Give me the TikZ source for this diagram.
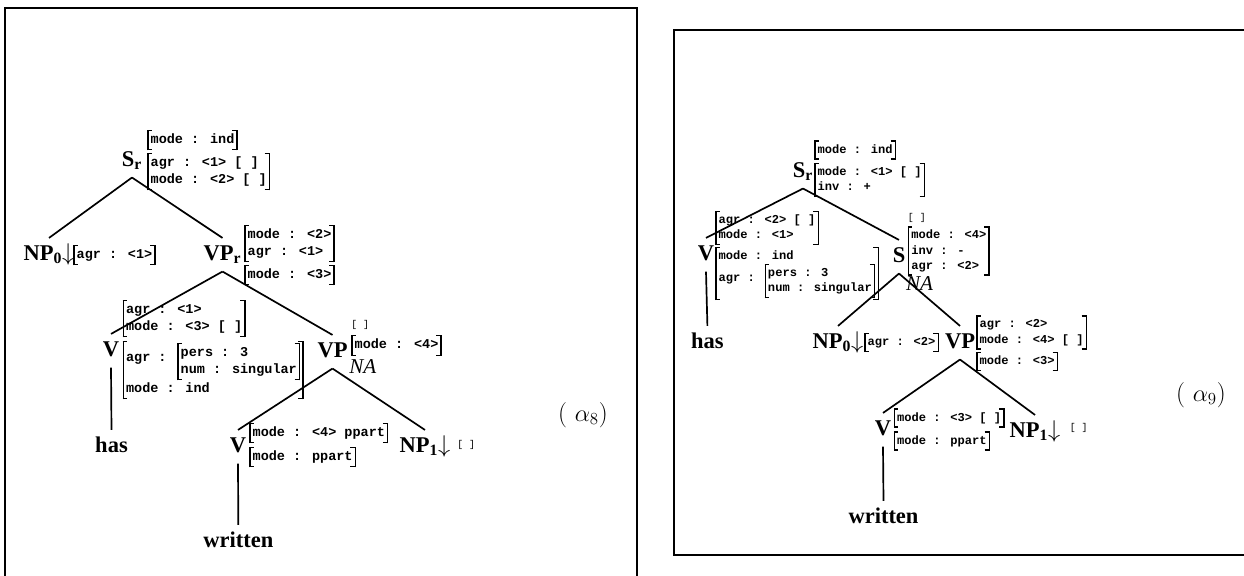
\documentclass[tikz,border=0pt]{standalone}
\usepackage{fontspec}
\newfontfamily\lblfont{Liberation Serif}
\newfontfamily\avmfont{Liberation Mono}
\newdimen\avmht \newdimen\avmdp \newdimen\avmhtx \newdimen\avmdpx
% feature structure with square brackets
\newcommand\avm[1]{{\setbox0=\hbox{\begin{tabular}{@{\hspace{1.5pt}}l@{\hspace{1.5pt}}}#1\end{tabular}}%
  \avmht=\ht0 \advance\avmht by 1.4pt
  \avmdp=\dp0 \advance\avmdp by 1.4pt
  \avmhtx=\avmht \advance\avmhtx by -.9pt
  \avmdpx=\avmdp \advance\avmdpx by -.9pt
  \rlap{\vrule height\avmht depth-\avmhtx width 3pt}%
  \rlap{\vrule height-\avmdpx depth\avmdp width 3pt}%
  \vrule height\avmht depth\avmdp width .9pt
  \box0\relax
  \llap{\vrule height\avmht depth-\avmhtx width 3pt}%
  \llap{\vrule height-\avmdpx depth\avmdp width 3pt}%
  \vrule height\avmht depth\avmdp width .9pt}}
\newcommand\avmsub[1]{\raisebox{-\dimexpr .3\baselineskip+.25em\relax}{\avm{#1}}}
\tikzset{
  lbl/.style={anchor=base, inner xsep=0pt, inner ysep=5pt, text height=10.5pt, text depth=3pt,
    font=\fontsize{16}{19}\lblfont\bfseries},
  fs/.style={anchor=west, inner sep=0pt, font=\fontsize{9.6}{12}\avmfont\bfseries},
  fsr/.style={fs, font=\fontsize{8.6}{10.8}\avmfont\bfseries},
  nofs/.style={anchor=west, inner sep=0pt, font=\fontsize{7}{8}\avmfont},
  na/.style={anchor=base west, inner sep=0pt, font=\fontsize{15}{18}\lblfont\itshape},
  tag/.style={inner sep=0pt, font=\fontsize{18}{21}\selectfont},
  tree/.style={line width=1.2pt},
  frame/.style={draw, line width=1.8pt}
}
\begin{document}
\begin{tikzpicture}[x=0.025cm, y=-0.025cm]
   \useasboundingbox (0,0) rectangle (1244,575);
   \clip (0,0) rectangle (1244,575);
   \draw[frame] (5,8) rectangle (637,600);
   \draw[frame] (674,30) rectangle (1260,555);

   % alpha 8
   \node[lbl] (lSr) at (132,166) {S\textsubscript{r}};
   \node[fs] (lSr-t) at (147,140) {\avm{mode : ind}};
   \node[fs] (lSr-b) at (147,171.5) {\avm{agr : <1> [ ]\\mode : <2> [ ]}};
   \node[lbl] (lNPz) at (49,260) {NP\textsubscript{0}$\downarrow$};
   \node[fs] (lNPz-f) at (73,255) {\avm{agr : <1>}};
   \node[lbl] (lVPr) at (222.5,260) {VP\textsubscript{r}};
   \node[fs] (lVPr-t) at (244,243.5) {\avm{mode : <2>\\agr : <1>}};
   \node[fs] (lVPr-b) at (244,275) {\avm{mode : <3>}};
   \node[lbl] (lVh) at (111,356) {V};
   \node[fs] (lVh-t) at (122.4,318.5) {\avm{agr : <1>\\mode : <3> [ ]}};
   \node[fs] (lVh-b) at (122.4,370) {\avm{agr : \avmsub{pers : 3\\num : singular}\\mode : ind}};
   \node[lbl] (lhas) at (111.5,452) {has};
   \node[lbl] (lVPn) at (332.5,357) {VP};
   \node[nofs] (lVPn-t) at (351,325) {[ ]};
   \node[fs] (lVPn-b) at (351,345.5) {\avm{mode : <4>}};
   \node[na] (lNA) at (349,373) {NA};
   \node[lbl] (lVw) at (238,452) {V};
   \node[fs] (lVw-t) at (249,433) {\avm{mode : <4> ppart}};
   \node[fs] (lVw-b) at (249,457) {\avm{mode : ppart}};
   \node[lbl] (lwritten) at (238.3,547) {written};
   \node[lbl] (lNPo) at (425,452) {NP\textsubscript{1}$\downarrow$};
   \node[nofs] (lNPo-f) at (457,445) {[ ]};
   \node[tag] (tag8) at (583,415) {( $\alpha_8$)};

   \path[tree]
    (lSr.south) edge (lNPz.north)
                edge (lVPr.north)
    (lVPr.south) edge (lVh.north)
                 edge (lVPn.north)
    (lVPn.south) edge (lVw.north)
                 edge (lNPo.north)
    (lVh.south) edge (lhas.north)
    (lVw.south) edge (lwritten.north);

   % alpha 9
   \node[lbl] (rSr) at (803,177) {S\textsubscript{r}};
   \node[fsr] (rSr-t) at (814,150) {\avm{mode : ind}};
   \node[fsr] (rSr-b) at (814,180) {\avm{mode : <1> [ ]\\inv : +}};
   \node[lbl] (rVh) at (706,260) {V};
   \node[fsr] (rVh-t) at (715,228) {\avm{agr : <2> [ ]\\mode : <1>}};
   \node[fsr] (rVh-b) at (715,273.5) {\avm{mode : ind\\agr : \avmsub{pers : 3\\num : singular}}};
   \node[lbl] (rhas) at (707.4,348) {has};
   \node[lbl] (rSn) at (899,262) {S};
   \node[nofs] (rSn-t) at (907.7,218) {[ ]};
   \node[fsr] (rSn-b) at (907.7,251) {\avm{mode : <4>\\inv : -\\agr : <2>}};
   \node[na] (rNA) at (905.8,290) {NA};
   \node[lbl] (rNPz) at (838,348) {NP\textsubscript{0}$\downarrow$};
   \node[fsr] (rNPz-f) at (864,342.5) {\avm{agr : <2>}};
   \node[lbl] (rVPn) at (960,348) {VP};
   \node[fsr] (rVPn-t) at (976,332.5) {\avm{agr : <2>\\mode : <4> [ ]}};
   \node[fsr] (rVPn-b) at (976,361.5) {\avm{mode : <3>}};
   \node[lbl] (rVw) at (883,435) {V};
   \node[fsr] (rVw-t) at (893.5,418) {\avm{mode : <3> [ ]}};
   \node[fsr] (rVw-b) at (893.5,441) {\avm{mode : ppart}};
   \node[lbl] (rwritten) at (883.5,523) {written};
   \node[lbl] (rNPo) at (1035,437) {NP\textsubscript{1}$\downarrow$};
   \node[nofs] (rNPo-f) at (1069.5,428) {[ ]};
   \node[tag] (tag9) at (1201,395) {( $\alpha_9$)};

   \path[tree]
    (rSr.south) edge (rVh.north)
                edge (rSn.north)
    (rSn.south) edge (rNPz.north)
                edge (rVPn.north)
    (rVPn.south) edge (rVw.north)
                 edge (rNPo.north)
    (rVh.south) edge (rhas.north)
    (rVw.south) edge (rwritten.north);
\end{tikzpicture}
\end{document}
